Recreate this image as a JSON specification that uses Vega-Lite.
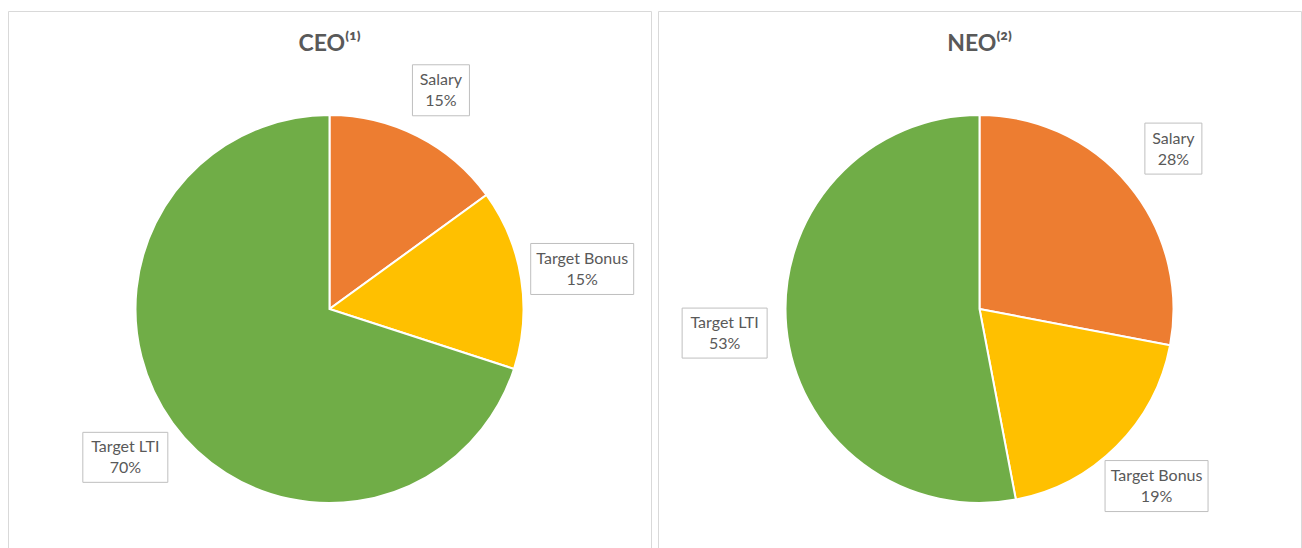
{
  "$schema": "https://vega.github.io/schema/vega-lite/v6.json",
  "padding": {"left": 7, "top": 10, "right": 0, "bottom": 0},
  "background": "white",
  "spacing": 5,
  "config": {
    "view": {"stroke": "#d9d9d9", "strokeWidth": 1},
    "font": "Lato",
    "title": {"font": "Lato", "fontSize": 23, "fontWeight": "bold", "color": "#595959", "baseline": "alphabetic", "offset": -45, "anchor": "middle"}
  },
  "datasets": {
    "pay": [
      {"chart": "CEO", "component": "Salary", "order": 1, "value": 15},
      {"chart": "CEO", "component": "Target Bonus", "order": 2, "value": 15},
      {"chart": "CEO", "component": "Target LTI", "order": 3, "value": 70},
      {"chart": "NEO", "component": "Salary", "order": 1, "value": 28},
      {"chart": "NEO", "component": "Target Bonus", "order": 2, "value": 19},
      {"chart": "NEO", "component": "Target LTI", "order": 3, "value": 53}
    ]
  },
  "hconcat": [
    {
      "title": "CEO⁽¹⁾",
      "width": 643,
      "height": 596,
      "data": {"name": "pay"},
      "transform": [
        {"filter": "datum.chart === 'CEO'"},
        {"window": [{"op": "sum", "field": "value", "as": "cum"}], "sort": [{"field": "order"}], "frame": [null, 0]},
        {"joinaggregate": [{"op": "sum", "field": "value", "as": "total"}]},
        {"calculate": "2 * PI * (datum.cum - datum.value / 2) / datum.total", "as": "mid"},
        {"calculate": "1.22 + 0.1 * abs(sin(datum.mid))", "as": "r"},
        {"calculate": "datum.r * sin(datum.mid)", "as": "lx"},
        {"calculate": "-datum.r * cos(datum.mid)", "as": "ly"},
        {"calculate": "[datum.component, datum.value + '%']", "as": "label"}
      ],
      "layer": [
        {
          "mark": {"type": "arc", "outerRadius": 194, "stroke": "white", "strokeWidth": 2},
          "encoding": {
            "theta": {"field": "value", "type": "quantitative", "stack": true},
            "order": {"field": "order", "type": "quantitative"},
            "color": {"field": "component", "type": "nominal", "legend": null,
              "scale": {"domain": ["Salary", "Target Bonus", "Target LTI"], "range": ["#ED7D31", "#FFC000", "#70AD47"]}}
          }
        },
        {
          "mark": {"type": "point", "filled": true, "fill": "white", "stroke": "#bfbfbf", "strokeWidth": 1, "opacity": 1, "size": 10000},
          "encoding": {
            "x": {"field": "lx", "type": "quantitative", "axis": null, "scale": {"domain": [-1.6572, 1.6572], "nice": false, "zero": false}},
            "y": {"field": "ly", "type": "quantitative", "axis": null, "scale": {"domain": [1.5361, -1.5361], "nice": false, "zero": false}},
            "shape": {"field": "component", "type": "nominal", "legend": null,
              "scale": {"domain": ["Salary", "Target Bonus", "Target LTI"], "range": ["M-0.57,-0.51H0.57V0.51H-0.57Z", "M-1.03,-0.51H1.03V0.51H-1.03Z", "M-0.85,-0.5H0.85V0.5H-0.85Z"]}}
          }
        },
        {
          "mark": {"type": "text", "fontSize": 16, "color": "#595959", "lineHeight": 21, "baseline": "middle", "align": "center", "dy": -10},
          "encoding": {
            "x": {"field": "lx", "type": "quantitative"},
            "y": {"field": "ly", "type": "quantitative"},
            "text": {"field": "label"}
          }
        }
      ]
    },
    {
      "title": "NEO⁽²⁾",
      "width": 643,
      "height": 596,
      "data": {"name": "pay"},
      "transform": [
        {"filter": "datum.chart === 'NEO'"},
        {"window": [{"op": "sum", "field": "value", "as": "cum"}], "sort": [{"field": "order"}], "frame": [null, 0]},
        {"joinaggregate": [{"op": "sum", "field": "value", "as": "total"}]},
        {"calculate": "2 * PI * (datum.cum - datum.value / 2) / datum.total", "as": "mid"},
        {"calculate": "1.22 + 0.1 * abs(sin(datum.mid))", "as": "r"},
        {"calculate": "datum.r * sin(datum.mid)", "as": "lx"},
        {"calculate": "-datum.r * cos(datum.mid)", "as": "ly"},
        {"calculate": "[datum.component, datum.value + '%']", "as": "label"}
      ],
      "layer": [
        {
          "mark": {"type": "arc", "outerRadius": 194, "stroke": "white", "strokeWidth": 2},
          "encoding": {
            "theta": {"field": "value", "type": "quantitative", "stack": true},
            "order": {"field": "order", "type": "quantitative"},
            "color": {"field": "component", "type": "nominal", "legend": null,
              "scale": {"domain": ["Salary", "Target Bonus", "Target LTI"], "range": ["#ED7D31", "#FFC000", "#70AD47"]}}
          }
        },
        {
          "mark": {"type": "point", "filled": true, "fill": "white", "stroke": "#bfbfbf", "strokeWidth": 1, "opacity": 1, "size": 10000},
          "encoding": {
            "x": {"field": "lx", "type": "quantitative", "axis": null, "scale": {"domain": [-1.6572, 1.6572], "nice": false, "zero": false}},
            "y": {"field": "ly", "type": "quantitative", "axis": null, "scale": {"domain": [1.5361, -1.5361], "nice": false, "zero": false}},
            "shape": {"field": "component", "type": "nominal", "legend": null,
              "scale": {"domain": ["Salary", "Target Bonus", "Target LTI"], "range": ["M-0.57,-0.51H0.57V0.51H-0.57Z", "M-1.03,-0.51H1.03V0.51H-1.03Z", "M-0.85,-0.5H0.85V0.5H-0.85Z"]}}
          }
        },
        {
          "mark": {"type": "text", "fontSize": 16, "color": "#595959", "lineHeight": 21, "baseline": "middle", "align": "center", "dy": -10},
          "encoding": {
            "x": {"field": "lx", "type": "quantitative"},
            "y": {"field": "ly", "type": "quantitative"},
            "text": {"field": "label"}
          }
        }
      ]
    }
  ]
}
